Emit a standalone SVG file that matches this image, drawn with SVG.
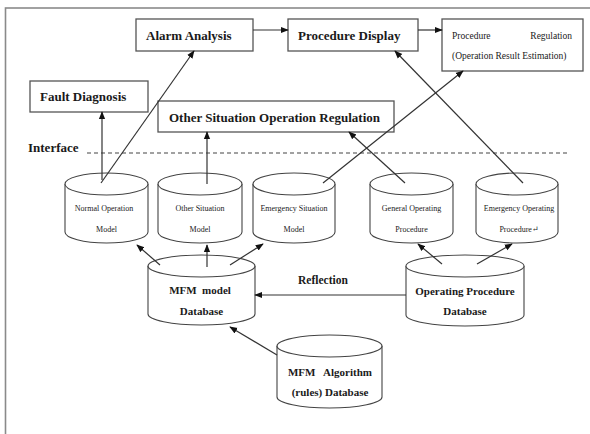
<svg xmlns="http://www.w3.org/2000/svg" width="590" height="434" viewBox="0 0 590 434">
<style>
.frame{fill:none;stroke:#8a8a8a;stroke-width:1.6}
.box{fill:#fff;stroke:#555;stroke-width:1.3}
.cyl{fill:#fff;stroke:#444;stroke-width:1.1}
.ln{fill:none;stroke:#333;stroke-width:1.2}
.dash{fill:none;stroke:#444;stroke-width:1.2;stroke-dasharray:4 3}
text{font-family:'Liberation Serif','DejaVu Serif',serif;fill:#1a1a1a}
.t13{font-size:13px;font-weight:bold}
.t11{font-size:11px;font-weight:bold}
.s8{font-size:8px;text-anchor:middle}
.s9{font-size:9.5px}
</style>
<defs>
<marker id="ah" viewBox="0 0 10 10" refX="9" refY="5" markerWidth="8" markerHeight="8" markerUnits="userSpaceOnUse" orient="auto">
<path d="M0,1 L10,5 L0,9 Z" fill="#111"/>
</marker>
</defs>
<rect class="frame" x="5.5" y="8" width="700" height="600"/>

<g id="alarm-analysis"><rect class="box" x="136" y="19" width="117" height="32"/><text class="t13" x="146" y="39.5">Alarm Analysis</text></g>
<g id="procedure-display"><rect class="box" x="288" y="19" width="130" height="32"/><text class="t13" x="298" y="39.5">Procedure Display</text></g>
<g id="procedure-regulation"><rect class="box" x="442" y="19" width="141" height="52"/><text class="s9" x="452" y="38.5">Procedure</text><text class="s9" x="572" y="38.5" text-anchor="end">Regulation</text><text class="s9" x="452" y="59">(Operation Result Estimation)</text></g>
<g id="fault-diagnosis"><rect class="box" x="30" y="81" width="118" height="31"/><text class="t13" x="40" y="101">Fault Diagnosis</text></g>
<g id="other-situation-regulation"><rect class="box" x="158" y="101" width="236" height="31"/><text class="t13" x="169" y="121.5">Other Situation Operation Regulation</text></g>
<g id="interface"><text class="t13" x="28" y="151.5">Interface</text><line class="dash" x1="87" y1="153" x2="570" y2="153"/></g>

<g id="normal-operation-model"><path class="cyl" d="M65,184 V232 A41.5,11 0 0 0 148,232 V184"/><ellipse class="cyl" cx="106.5" cy="184" rx="41.5" ry="11"/><text class="s8" x="104" y="211">Normal Operation</text><text class="s8" x="106.5" y="232">Model</text></g>
<g id="other-situation-model"><path class="cyl" d="M158,184 V232 A42,11 0 0 0 242,232 V184"/><ellipse class="cyl" cx="200" cy="184" rx="42" ry="11"/><text class="s8" x="200" y="211">Other Situation</text><text class="s8" x="200" y="232">Model</text></g>
<g id="emergency-situation-model"><path class="cyl" d="M253,184 V232 A41,11 0 0 0 335,232 V184"/><ellipse class="cyl" cx="294" cy="184" rx="41" ry="11"/><text class="s8" x="294" y="211">Emergency Situation</text><text class="s8" x="294" y="232">Model</text></g>
<g id="general-operating-procedure"><path class="cyl" d="M370,184 V232 A41.5,11 0 0 0 453,232 V184"/><ellipse class="cyl" cx="411.5" cy="184" rx="41.5" ry="11"/><text class="s8" x="411.5" y="211">General Operating</text><text class="s8" x="411.5" y="232">Procedure</text></g>
<g id="emergency-operating-procedure"><path class="cyl" d="M476,184 V232 A41,11 0 0 0 558,232 V184"/><ellipse class="cyl" cx="517" cy="184" rx="41" ry="11"/><text class="s8" x="519" y="211">Emergency Operating</text><text class="s8" x="519" y="232">Procedure↵</text></g>

<g id="mfm-model-database"><path class="cyl" d="M148,266 V314 A53.5,11 0 0 0 255,314 V266"/><ellipse class="cyl" cx="201.5" cy="266" rx="53.5" ry="11"/><text class="t11" x="200" y="294" text-anchor="middle" xml:space="preserve">MFM  model</text><text class="t11" x="201.5" y="315" text-anchor="middle">Database</text></g>
<g id="operating-procedure-database"><path class="cyl" d="M406,266 V315 A59,11 0 0 0 524,315 V266"/><ellipse class="cyl" cx="465" cy="266" rx="59" ry="11"/><text class="t11" x="465" y="294.5" text-anchor="middle">Operating Procedure</text><text class="t11" x="465" y="315" text-anchor="middle">Database</text></g>
<g id="mfm-algorithm-database"><path class="cyl" d="M277,346 V397 A52.5,11 0 0 0 382,397 V346"/><ellipse class="cyl" cx="329.5" cy="346" rx="52.5" ry="11"/><text class="t11" x="330" y="376" text-anchor="middle" xml:space="preserve">MFM   Algorithm</text><text class="t11" x="330" y="396" text-anchor="middle">(rules) Database</text></g>

<g id="connectors">
<line class="ln" x1="253" y1="30" x2="288" y2="30" marker-end="url(#ah)"/>
<line class="ln" x1="418" y1="30" x2="442" y2="30" marker-end="url(#ah)"/>
<line class="ln" x1="102" y1="180" x2="102" y2="112" marker-end="url(#ah)"/>
<line class="ln" x1="101" y1="183" x2="194" y2="51" marker-end="url(#ah)"/>
<line class="ln" x1="207" y1="184" x2="207" y2="132" marker-end="url(#ah)"/>
<line class="ln" x1="323" y1="183" x2="463" y2="71" marker-end="url(#ah)"/>
<line class="ln" x1="405" y1="183" x2="349" y2="132" marker-end="url(#ah)"/>
<line class="ln" x1="523" y1="183" x2="395" y2="51" marker-end="url(#ah)"/>
<line class="ln" x1="160" y1="265" x2="137" y2="245" marker-end="url(#ah)"/>
<line class="ln" x1="207" y1="267" x2="207" y2="245" marker-end="url(#ah)"/>
<line class="ln" x1="230" y1="265" x2="263" y2="244" marker-end="url(#ah)"/>
<line class="ln" x1="442" y1="264" x2="418" y2="244" marker-end="url(#ah)"/>
<line class="ln" x1="477" y1="264" x2="512" y2="244" marker-end="url(#ah)"/>
<line class="ln" x1="406" y1="295" x2="255" y2="295" marker-end="url(#ah)"/>
<text class="t11" x="298" y="284" style="font-size:11.5px">Reflection</text>
<line class="ln" x1="277" y1="355" x2="230" y2="327" marker-end="url(#ah)"/>
</g>
</svg>
